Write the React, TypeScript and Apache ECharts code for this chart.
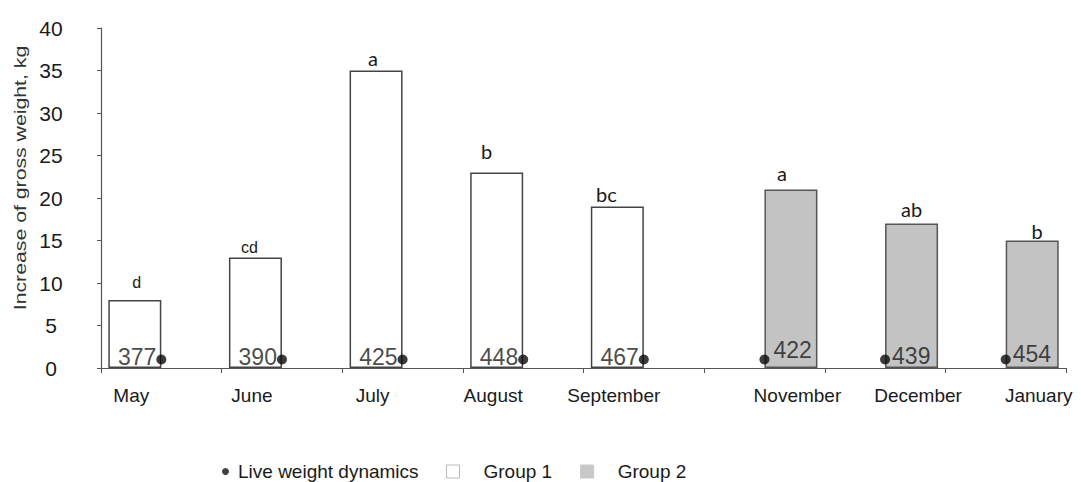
import React, { useEffect, useRef } from "react";
import * as echarts from "echarts";

const categories = ["May", "June", "July", "August", "September", "November", "December", "January"];
const group1 = [8, 13, 35, 23, 19, null, null, null];
const group2 = [null, null, null, null, null, 21, 17, 15];
const letters = ["d", "cd", "a", "b", "bc", "a", "ab", "b"];
const liveWeight = [377, 390, 425, 448, 467, 422, 439, 454];
const dotLevel = [1, 1, 1, 1, 1, 1, 1, 1];
const yTicks = [0, 5, 10, 15, 20, 25, 30, 35, 40];

// label styling (not data)
const letterOffsetX = [2, -6, -3, -10, -11, -9, 0, 5];
const letterDistance = [10, 2, 3, 12, 3, 7, 5, 0];
const letterSize = [16, 16, 20, 20, 20, 20, 20, 20];
const letterFont = ["Liberation Sans", "Liberation Sans", "Lato", "Lato", "Lato", "Lato", "Lato", "Lato"];
const liveOffsetY = [-3, -3, -3, -3, -3, -10, -4, -6];
const liveSide = ["left", "left", "left", "left", "left", "right", "right", "right"];
const liveDist = [0, 0, 0, 0, 0, 4, 2, 2];

const FONT = "Liberation Sans";

function barData(values: (number | null)[]) {
  return values.map((v, i) =>
    v == null
      ? null
      : {
          value: v,
          label: {
            show: true,
            position: "top",
            formatter: letters[i],
            distance: letterDistance[i],
            offset: [letterOffsetX[i], 0],
            fontSize: letterSize[i],
            fontFamily: letterFont[i],
            color: "#1a1a1a",
          },
        }
  );
}

export default function App() {
  const ref = useRef<HTMLDivElement>(null);
  useEffect(() => {
    document.body.style.margin = "0";
    if (!ref.current) return;
    const chart = echarts.init(ref.current, null, { renderer: "svg" });
    const option: any = {
      animation: false,
      backgroundColor: "#fff",
      grid: { left: 101, right: 15, top: 28, bottom: 114 },
      xAxis: {
        type: "category",
        data: categories,
        axisLine: { lineStyle: { color: "#555", width: 1.2 } },
        axisTick: { show: true, length: 5, lineStyle: { color: "#555" } },
        axisLabel: {
          interval: 0,
          hideOverlap: false,
          margin: 18,
          fontSize: 19,
          fontFamily: FONT,
          color: "#1a1a1a",
          formatter: (v: string) => {
            const i = categories.indexOf(v);
            return i < 5 ? `{a|${v}}` : `{b|${v}}`;
          },
          rich: {
            a: { fontSize: 19, fontFamily: FONT, color: "#1a1a1a", padding: [0, 60, 0, 0] },
            b: { fontSize: 19, fontFamily: FONT, color: "#1a1a1a", padding: [0, 0, 0, 66] },
          },
        },
      },
      yAxis: {
        type: "value",
        min: yTicks[0],
        max: yTicks[yTicks.length - 1],
        interval: yTicks[1] - yTicks[0],
        splitLine: { show: false },
        axisLine: { show: true, lineStyle: { color: "#555", width: 1.2 } },
        axisTick: { show: true, length: 4, lineStyle: { color: "#555" } },
        axisLabel: {
          margin: 50,
          align: "center",
          fontSize: 21,
          fontFamily: FONT,
          color: "#1a1a1a",
        },
      },
      legend: [
        {
          left: 222,
          top: 462,
          padding: 0,
          itemWidth: 7,
          itemHeight: 7,
          data: [
            {
              name: "Live weight dynamics",
              icon: "circle",
              itemStyle: { color: "#111" },
              textStyle: { padding: [0, 0, 0, 4] },
            },
          ],
          textStyle: { fontSize: 19, fontFamily: FONT, color: "#1a1a1a" },
        },
        {
          left: 446,
          top: 462,
          padding: 0,
          itemWidth: 13,
          itemHeight: 13,
          itemGap: 28,
          data: [
            {
              name: "Group 1",
              icon: "rect",
              itemStyle: { color: "#fff", borderColor: "#bbb", borderWidth: 1 },
              textStyle: { padding: [0, 0, 0, 19] },
            },
            {
              name: "Group 2",
              icon: "rect",
              itemStyle: { color: "#c8c8c8", borderColor: "#c8c8c8", borderWidth: 1 },
              textStyle: { padding: [0, 0, 0, 19] },
            },
          ],
          textStyle: { fontSize: 19, fontFamily: FONT, color: "#1a1a1a" },
        },
      ],
      graphic: [
        {
          type: "text",
          x: 20,
          y: 178,
          rotation: Math.PI / 2,
          scaleX: 1.25,
          style: {
            text: "Increase of gross weight, kg",
            font: `17px "${FONT}"`,
            fill: "#333",
            align: "center",
            verticalAlign: "middle",
          },
        },
      ],
      series: [
        {
          name: "Group 1",
          type: "bar",
          barWidth: 53,
          barGap: "0%",
          data: barData(group1),
          itemStyle: { color: "#fff", borderColor: "#444", borderWidth: 1.5 },
        },
        {
          name: "Group 2",
          type: "bar",
          barWidth: 53,
          barGap: "0%",
          data: barData(group2),
          itemStyle: { color: "#c3c3c3", borderColor: "#555", borderWidth: 1.5 },
        },
        {
          name: "Live weight dynamics",
          type: "scatter",
          symbol: "circle",
          symbolSize: 10,
          z: 5,
          itemStyle: { color: "#0a0a0a" },
          data: dotLevel.map((v, i) => ({
            value: v,
            label: {
              show: true,
              position: liveSide[i],
              distance: liveDist[i],
              offset: [0, liveOffsetY[i]],
              formatter: String(liveWeight[i]),
              fontSize: 23,
              fontFamily: FONT,
              color: "#1a1a1a",
            },
          })),
        },
      ],
    };
    chart.setOption(option);
    return () => chart.dispose();
  }, []);
  return <div ref={ref} style={{ width: 1081, height: 482 }} />;
}
